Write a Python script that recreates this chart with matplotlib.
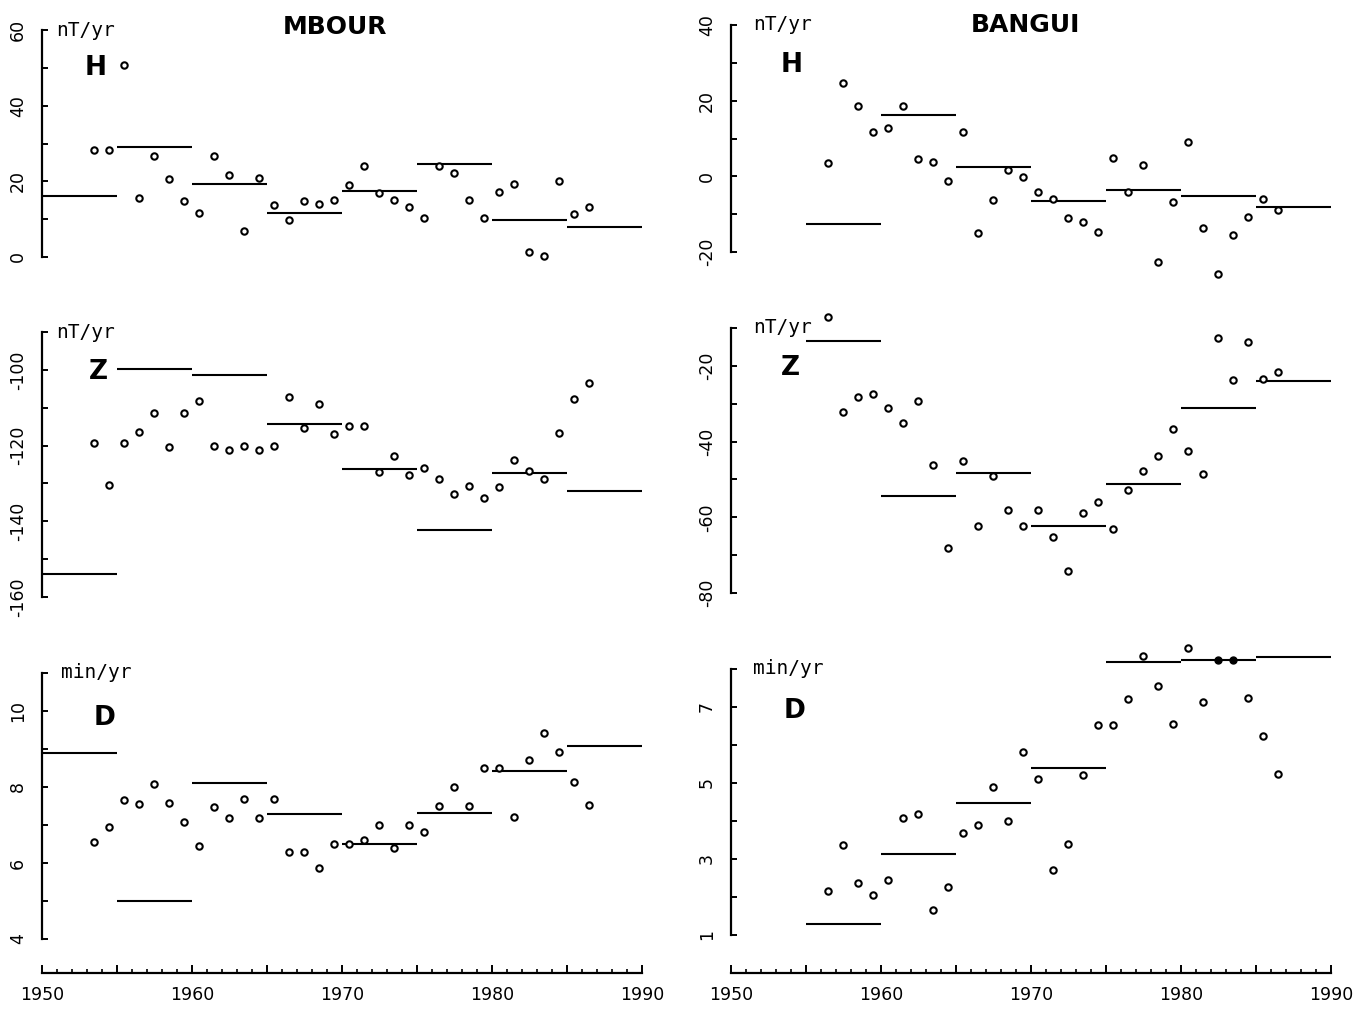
import matplotlib
matplotlib.use("Agg")
import matplotlib.pyplot as plt
import numpy as np

plt.rcParams['font.family'] = ['DejaVu Sans']
plt.rcParams['axes.unicode_minus'] = False

# ---------------- data ----------------
mbour_years = list(range(1953, 1987))
mbour_H = [28.4, 28.4, 50.7, 15.7, 26.6, 20.7, 14.7, 11.7, 26.6, 21.7, 6.9, 20.8,
           13.8, 9.9, 14.9, 13.9, 15.0, 19.1, 24.0, 17.0, 15.1, 13.1, 10.2, 24.0,
           22.2, 15.0, 10.2, 17.2, 19.2, 1.3, 0.3, 20.2, 11.3, 13.2]
mbour_Z = [-119.2, -130.5, -119.2, -116.3, -111.3, -120.3, -111.3, -108.2, -120.1,
           -121.2, -120.1, -121.2, -120.1, -107.1, -115.3, -109.1, -116.9, -114.8,
           -114.8, -126.9, -122.8, -127.8, -125.8, -128.9, -132.8, -130.7, -133.8,
           -130.9, -123.7, -126.7, -128.8, -116.6, -107.7, -103.5]
mbour_D = [6.55, 6.96, 7.67, 7.56, 8.07, 7.57, 7.07, 6.46, 7.48, 7.18, 7.68, 7.18,
           7.68, 6.28, 6.28, 5.88, 6.49, 6.49, 6.60, 7.00, 6.40, 7.00, 6.81, 7.51,
           8.01, 7.51, 8.51, 8.51, 7.20, 8.72, 9.42, 8.92, 8.14, 7.52]
mbour_mean_start = [1950, 1955, 1960, 1965, 1970, 1975, 1980, 1985]
mbour_mean_H = [16.2, 29.2, 19.3, 11.7, 17.5, 24.6, 9.9, 8.0]
mbour_mean_Z = [-154.0, -99.7, -101.4, -114.3, -126.3, -142.4, -127.2, -132.0]
mbour_mean_D = [8.90, 4.99, 8.11, 7.30, 6.50, 7.32, 8.43, 9.08]

bangui_years = list(range(1956, 1987))
bangui_H = [3.5, 24.6, 18.6, 11.6, 12.7, 18.6, 4.6, 3.7, -1.3, 11.7, -15.1, -6.2,
            1.8, -0.3, -4.2, -6.0, -11.0, -12.0, -14.8, 4.8, -4.1, 3.0, -22.7, -6.9,
            9.0, -13.7, -25.7, -15.6, -10.7, -5.9, -9.0]
bangui_Z = [-7.1, -32.3, -28.3, -27.4, -31.2, -35.1, -29.2, -46.1, -68.2, -45.1,
            -62.3, -49.0, -58.0, -62.2, -58.0, -65.1, -74.1, -58.9, -55.9, -63.0,
            -52.7, -47.7, -43.7, -36.7, -42.6, -48.6, -12.7, -23.7, -13.6, -23.5, -21.7]
bangui_D = [2.15, 3.36, 2.36, 2.05, 2.45, 4.07, 4.18, 1.66, 2.27, 3.69, 3.89, 4.90,
            3.99, 5.81, 5.10, 2.70, 3.39, 5.21, 6.52, 6.52, 7.22, 8.35, 7.55, 6.54,
            8.54, 7.13, 8.25, 8.25, 7.25, 6.25, 5.25]
bangui_D_filled_years = [1982, 1983]
bangui_mean_start = [1955, 1960, 1965, 1970, 1975, 1980, 1985]
bangui_mean_H = [-12.7, 16.3, 2.5, -6.4, -3.6, -5.3, -8.1]
bangui_mean_Z = [-13.5, -54.5, -48.4, -62.4, -51.2, -31.2, -24.0]
bangui_mean_D = [1.30, 3.14, 4.48, 5.39, 8.19, 8.25, 8.32]

x_ticks_labels = [1950, 1960, 1970, 1980, 1990]

# ---------------- layout ----------------
W, H = 1361, 1009
fig = plt.figure(figsize=(W / 100, H / 100), dpi=100)
fig.patch.set_facecolor('white')


def px_axes(x0, x1, ytop, ybot):
    return fig.add_axes([x0 / W, 1 - ybot / H, (x1 - x0) / W, (ybot - ytop) / H])


def panel(x0, ytop, ybot, ylim, yticks, ymin, years, vals, mstart, mvals,
          unit, letter, unit_dx, letter_dx, letter_dy, filled=None):
    ax = px_axes(x0, x0 + 600, ytop, ybot)
    ax.set_xlim(1950, 1990)
    ax.set_ylim(*ylim)
    for s in ['top', 'right', 'bottom']:
        ax.spines[s].set_visible(False)
    ax.spines['left'].set_linewidth(1.6)
    ax.set_xticks([])
    ax.set_yticks(yticks)
    ax.set_yticks(ymin, minor=True)
    ax.tick_params(axis='y', which='both', direction='in', length=4, width=1.4,
                   labelsize=12.5, pad=11, labelrotation=90)
    for lab in ax.get_yticklabels():
        lab.set_verticalalignment('center')
    xs = np.array(years) + 0.45
    fy = set(filled or [])
    open_x = [x for x, yr in zip(xs, years) if yr not in fy]
    open_v = [v for v, yr in zip(vals, years) if yr not in fy]
    ax.plot(open_x, open_v, 'o', ms=4.6, mfc='white', mec='black', mew=1.5,
            clip_on=False, zorder=3)
    if filled:
        fx = [x for x, yr in zip(xs, years) if yr in fy]
        fv = [v for v, yr in zip(vals, years) if yr in fy]
        ax.plot(fx, fv, 'o', ms=5, mfc='black', mec='black', clip_on=False, zorder=3)
    for s0, m in zip(mstart, mvals):
        ax.plot([s0, s0 + 5], [m, m], '-', color='black', lw=1.5,
                solid_capstyle='butt', clip_on=False, zorder=2)
    ax.text(unit_dx / 600, 1.0, unit, transform=ax.transAxes, fontsize=14,
            family='DejaVu Sans Mono', ha='left', va='center')
    ax.text(letter_dx / 600, 1 - letter_dy / (ybot - ytop), letter,
            transform=ax.transAxes, fontsize=19, fontweight='bold',
            ha='left', va='center')
    return ax


def xaxis(x0, y):
    ax = px_axes(x0, x0 + 600, y - 12, y)
    ax.set_xlim(1950, 1990)
    ax.set_ylim(0, 1)
    for s in ['top', 'right', 'left']:
        ax.spines[s].set_visible(False)
    ax.spines['bottom'].set_linewidth(1.6)
    ax.set_yticks([])
    ax.set_xticks(np.arange(1950, 1991, 5))
    ax.set_xticklabels([str(v) if v in x_ticks_labels else '' for v in np.arange(1950, 1991, 5)])
    ax.set_xticks(np.arange(1950, 1991, 1), minor=True)
    ax.tick_params(axis='x', which='major', direction='in', length=6, width=1.4,
                   labelsize=12.5, pad=9)
    ax.tick_params(axis='x', which='minor', direction='in', length=3, width=1.2)
    ax.patch.set_alpha(0)


LX, RX = 42, 731

# MBOUR
panel(LX, 30, 257, (0, 60), [0, 20, 40, 60], [10, 30, 50], mbour_years, mbour_H,
      mbour_mean_start, mbour_mean_H, 'nT/yr', 'H', 14, 43, 38)
panel(LX, 332, 597, (-160, -90), [-160, -140, -120, -100], [-150, -130, -110, -90],
      mbour_years, mbour_Z, mbour_mean_start, mbour_mean_Z, 'nT/yr', 'Z', 14, 47, 40)
panel(LX, 673, 939, (4, 11), [4, 6, 8, 10], [5, 7, 9, 11], mbour_years, mbour_D,
      mbour_mean_start, mbour_mean_D, 'min/yr', 'D', 19, 52, 45)
xaxis(LX, 973)

# BANGUI
panel(RX, 25, 252, (-20, 40), [-20, 0, 20, 40], [-10, 10, 30], bangui_years, bangui_H,
      bangui_mean_start, bangui_mean_H, 'nT/yr', 'H', 22, 50, 40)
panel(RX, 328, 593, (-80, -10), [-80, -60, -40, -20], [-70, -50, -30, -10],
      bangui_years, bangui_Z, bangui_mean_start, bangui_mean_Z, 'nT/yr', 'Z', 22, 50, 40)
panel(RX, 669, 935, (1, 8), [1, 3, 5, 7], [2, 4, 6, 8], bangui_years, bangui_D,
      bangui_mean_start, bangui_mean_D, 'min/yr', 'D', 22, 53, 42,
      filled=bangui_D_filled_years)
xaxis(RX, 973)

fig.text(335 / W, 1 - 27 / H, 'MBOUR', fontsize=18, fontweight='bold', ha='center', va='center')
fig.text(1025 / W, 1 - 25 / H, 'BANGUI', fontsize=18, fontweight='bold', ha='center', va='center')

fig.savefig('out.png', dpi=100, facecolor='white')
